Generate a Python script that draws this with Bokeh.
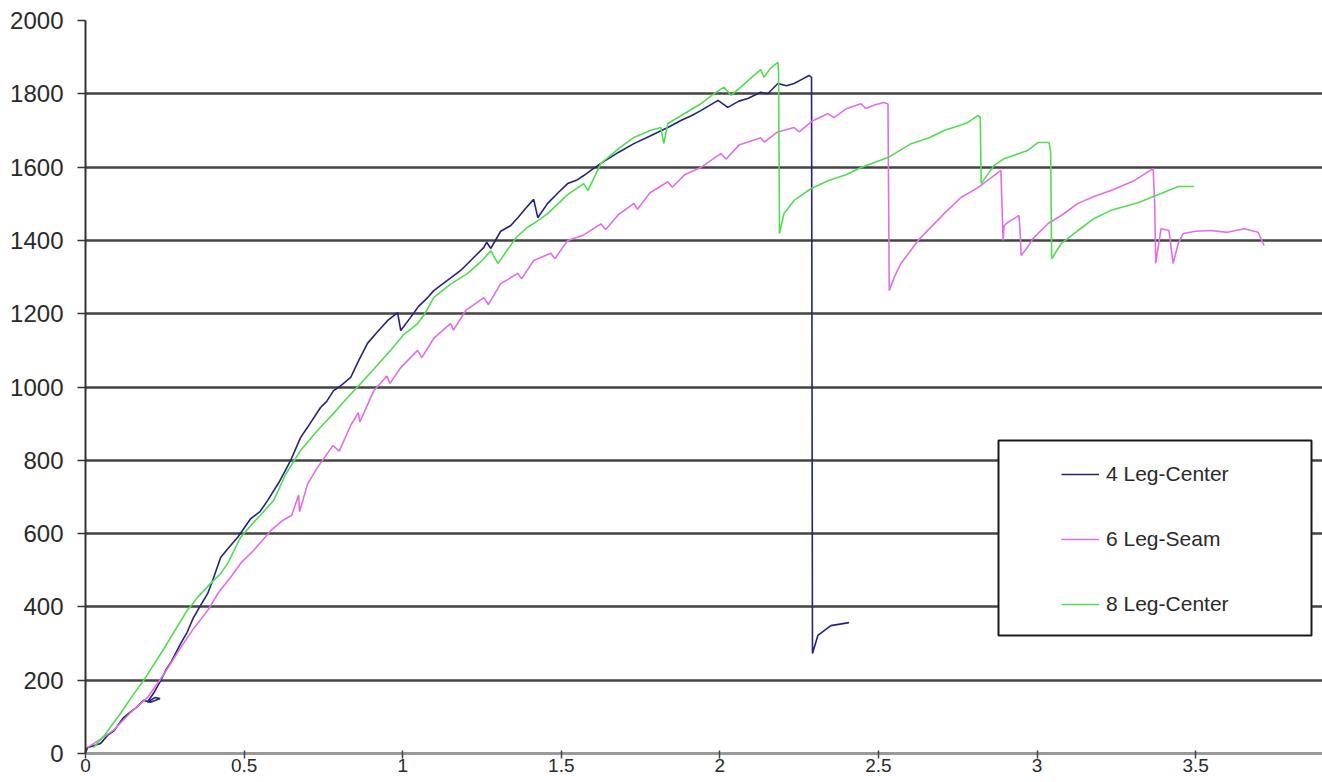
from bokeh.plotting import figure
from bokeh.models import Range1d, FixedTicker, Legend, LegendItem, BoxAnnotation
from bokeh.embed import file_html
from bokeh.resources import INLINE

# ---------------- data ----------------
x_ticks = [0, 0.5, 1, 1.5, 2, 2.5, 3, 3.5]
x_tick_labels = ["0", "0.5", "1", "1.5", "2", "2.5", "3", "3.5"]
y_ticks = [0, 200, 400, 600, 800, 1000, 1200, 1400, 1600, 1800, 2000]

series_names = ["4 Leg-Center", "6 Leg-Seam", "8 Leg-Center"]

x4 = [0.0, 0.006, 0.047, 0.07, 0.09, 0.12, 0.14, 0.16, 0.183, 0.205, 0.235, 0.22, 0.195, 0.215,
      0.237, 0.255, 0.27, 0.30, 0.32, 0.34, 0.36, 0.385, 0.40, 0.426, 0.45, 0.48, 0.52, 0.55,
      0.574, 0.61, 0.647, 0.678, 0.70, 0.741, 0.76, 0.782, 0.80, 0.836, 0.86, 0.889, 0.92,
      0.952, 0.984, 0.994, 1.025, 1.05, 1.079, 1.098, 1.14, 1.183, 1.22, 1.256, 1.265, 1.278,
      1.309, 1.34, 1.363, 1.39, 1.413, 1.426, 1.457, 1.49, 1.52, 1.55, 1.571, 1.60, 1.625,
      1.68, 1.729, 1.78, 1.836, 1.877, 1.91, 1.94, 1.994, 2.025, 2.06, 2.088, 2.129, 2.151,
      2.183, 2.21, 2.234, 2.26, 2.281, 2.289, 2.292, 2.309, 2.35, 2.407]
y4 = [0, 16, 27, 50, 62, 98, 112, 125, 145, 140, 150, 153, 140, 165,
      199, 230, 250, 300, 330, 370, 400, 436, 470, 535, 560, 590, 640, 660,
      690, 740, 800, 862, 890, 944, 960, 990, 1000, 1026, 1070, 1119, 1150,
      1181, 1203, 1154, 1190, 1220, 1244, 1263, 1290, 1318, 1350, 1381, 1395, 1378,
      1425, 1440, 1462, 1490, 1512, 1462, 1501, 1530, 1555, 1565, 1577, 1595, 1610,
      1640, 1664, 1685, 1708, 1727, 1740, 1754, 1782, 1763, 1780, 1787, 1804, 1800,
      1828, 1822, 1828, 1840, 1850, 1845, 273, 322, 349, 357]

x6 = [0.006, 0.04, 0.088, 0.14, 0.196, 0.25, 0.30, 0.34, 0.385, 0.42, 0.457, 0.49, 0.53,
      0.584, 0.62, 0.65, 0.672, 0.675, 0.70, 0.731, 0.78, 0.80, 0.836, 0.86, 0.865, 0.909,
      0.95, 0.96, 0.994, 1.047, 1.06, 1.10, 1.151, 1.16, 1.20, 1.256, 1.27, 1.309, 1.363,
      1.375, 1.413, 1.467, 1.48, 1.52, 1.571, 1.625, 1.64, 1.68, 1.729, 1.74, 1.78, 1.836,
      1.85, 1.89, 1.94, 2.003, 2.02, 2.06, 2.129, 2.14, 2.18, 2.234, 2.25, 2.29, 2.341,
      2.36, 2.40, 2.445, 2.46, 2.49, 2.517, 2.53, 2.534, 2.55, 2.571, 2.625, 2.707, 2.76,
      2.814, 2.886, 2.893, 2.896, 2.908, 2.943, 2.947, 2.95, 2.97, 2.987, 3.035, 3.08,
      3.129, 3.18, 3.233, 3.306, 3.366, 3.371, 3.374, 3.391, 3.416, 3.429, 3.445, 3.461,
      3.50, 3.549, 3.60, 3.653, 3.697, 3.716]
y6 = [16, 35, 63, 110, 153, 220, 289, 340, 390, 440, 480, 520, 554,
      608, 635, 650, 705, 660, 735, 780, 840, 825, 895, 930, 905, 990,
      1030, 1010, 1053, 1100, 1080, 1135, 1173, 1155, 1210, 1244, 1225, 1282, 1310,
      1295, 1345, 1365, 1350, 1400, 1415, 1445, 1430, 1470, 1501, 1485, 1530, 1560,
      1545, 1580, 1599, 1637, 1622, 1660, 1680, 1668, 1695, 1708, 1696, 1725, 1746,
      1735, 1760, 1773, 1760, 1770, 1776, 1772, 1263, 1300, 1337, 1400, 1473, 1517,
      1544, 1591, 1400, 1440, 1449, 1468, 1420, 1359, 1381, 1405, 1446, 1470,
      1501, 1520, 1536, 1563, 1596, 1500, 1337, 1432, 1427, 1337, 1391, 1419,
      1425, 1427, 1422, 1432, 1422, 1386]

x8 = [0.025, 0.06, 0.11, 0.15, 0.183, 0.25, 0.32, 0.335, 0.353, 0.39, 0.426, 0.448, 0.489,
      0.54, 0.593, 0.63, 0.678, 0.73, 0.782, 0.82, 0.868, 0.91, 0.962, 1.0, 1.047, 1.07,
      1.098, 1.15, 1.205, 1.25, 1.278, 1.30, 1.331, 1.36, 1.394, 1.413, 1.457, 1.52, 1.571,
      1.584, 1.625, 1.68, 1.729, 1.78, 1.814, 1.823, 1.836, 1.877, 1.94, 1.981, 2.013,
      2.035, 2.066, 2.10, 2.129, 2.139, 2.16, 2.183, 2.185, 2.188, 2.202, 2.234, 2.287,
      2.341, 2.40, 2.445, 2.53, 2.603, 2.66, 2.707, 2.76, 2.782, 2.814, 2.821, 2.824,
      2.864, 2.896, 2.97, 3.003, 3.038, 3.043, 3.046, 3.076, 3.129, 3.18, 3.233, 3.318,
      3.391, 3.445, 3.495]
y8 = [16, 50, 109, 160, 199, 290, 390, 405, 426, 460, 491, 518, 590,
      640, 690, 760, 827, 880, 928, 965, 1010, 1050, 1100, 1140, 1173, 1200,
      1244, 1280, 1310, 1345, 1372, 1337, 1375, 1410, 1436, 1446, 1473, 1525, 1555,
      1536, 1610, 1650, 1681, 1700, 1708, 1664, 1719, 1740, 1773, 1800, 1818,
      1796, 1818, 1845, 1866, 1845, 1870, 1886, 1860, 1419, 1473, 1509, 1541,
      1563, 1580, 1599, 1626, 1664, 1680, 1700, 1715, 1722, 1741, 1735, 1555,
      1604, 1623, 1645, 1667, 1667, 1640, 1350, 1391, 1427, 1460, 1482, 1503,
      1528, 1547, 1547]

colors = ["#23237d", "#e26ee6", "#52dc52"]

# ---------------- figure ----------------
FONT = "Liberation Sans"
p = figure(width=1322, height=782, output_backend="svg", toolbar_location=None,
           x_range=Range1d(0, 3.9), y_range=Range1d(0, 2000),
           min_border_left=85, min_border_top=20, min_border_right=0, min_border_bottom=29)
p.outline_line_color = None
p.background_fill_color = "white"

r4 = p.line(x4, y4, line_color=colors[0], line_width=1.6)
r6 = p.line(x6, y6, line_color=colors[1], line_width=1.6)
r8 = p.line(x8, y8, line_color=colors[2], line_width=1.6)

# axes
p.xaxis.ticker = FixedTicker(ticks=x_ticks)
p.xaxis.major_label_overrides = {t: s for t, s in zip(x_ticks, x_tick_labels)}
p.xaxis.axis_line_color = "#9a9a9a"
p.xaxis.axis_line_width = 3
p.xaxis.major_tick_line_color = "#444444"
p.xaxis.major_tick_line_width = 1.5
p.xaxis.major_tick_in = 3
p.xaxis.major_tick_out = 5
p.xaxis.minor_tick_line_color = None
p.xaxis.major_label_standoff = 0
p.xaxis.major_label_text_font = FONT
p.xaxis.major_label_text_font_size = "19px"
p.xaxis.major_label_text_color = "#2a2a2a"

p.yaxis.ticker = FixedTicker(ticks=y_ticks)
p.yaxis.axis_line_color = "#333333"
p.yaxis.axis_line_width = 2
p.yaxis.major_tick_line_color = "#333333"
p.yaxis.major_tick_line_width = 1.5
p.yaxis.major_tick_in = 0
p.yaxis.major_tick_out = 8
p.yaxis.minor_tick_line_color = None
p.yaxis.major_label_standoff = 14
p.yaxis.major_label_text_font = FONT
p.yaxis.major_label_text_font_size = "24px"
p.yaxis.major_label_text_color = "#2a2a2a"

p.xgrid.grid_line_color = None
p.ygrid.ticker = FixedTicker(ticks=y_ticks[1:])
p.ygrid.grid_line_color = "#444444"
p.ygrid.grid_line_width = 2.5

# legend frame
box = BoxAnnotation(left=998, right=1311, top=440, bottom=635,
                    left_units="canvas", right_units="canvas",
                    top_units="canvas", bottom_units="canvas",
                    fill_color="white", fill_alpha=1.0,
                    line_color="#1a1a1a", line_alpha=1.0, line_width=2)
p.add_layout(box)

legend = Legend(items=[LegendItem(label=series_names[0], renderers=[r4]),
                       LegendItem(label=series_names[1], renderers=[r6]),
                       LegendItem(label=series_names[2], renderers=[r8])],
                location=(976, 134), orientation="vertical",
                padding=18, spacing=35, margin=0,
                glyph_width=38, glyph_height=30, label_height=30,
                label_standoff=7,
                label_text_font=FONT, label_text_font_size="21px",
                label_text_color="#2a2a2a",
                border_line_color=None, background_fill_alpha=0.0)
p.add_layout(legend)

open("out.html", "w").write(file_html(p, INLINE))
